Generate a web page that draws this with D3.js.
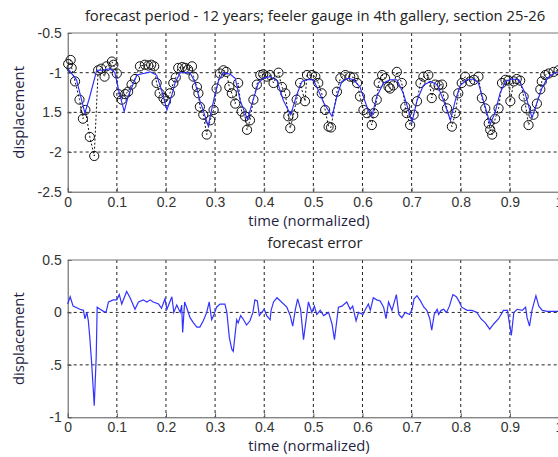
<!DOCTYPE html>
<html>
<head>
<meta charset="utf-8">
<script src="https://cdn.jsdelivr.net/npm/d3@7"></script>
<style>
  body { margin: 0; background: #fff; }
  svg { display: block; }
</style>
</head>
<body>
<div id="chart"></div>
<script>
// observed values (circles), normalized time
var obsT = [0.001, 0.006, 0.008, 0.015, 0.024, 0.031, 0.036, 0.045, 0.054, 0.062, 0.068, 0.075, 0.079,
  0.090, 0.093, 0.100, 0.103, 0.110, 0.117, 0.123, 0.130, 0.137, 0.147, 0.157, 0.164, 0.170, 0.176,
  0.181, 0.187, 0.195, 0.200, 0.208, 0.215, 0.220, 0.225, 0.233, 0.239, 0.245, 0.253, 0.256, 0.263,
  0.266, 0.269, 0.276, 0.283, 0.290, 0.297, 0.303, 0.310, 0.317, 0.323, 0.329, 0.334, 0.341, 0.347,
  0.354, 0.361, 0.365, 0.371, 0.378, 0.385, 0.392, 0.398, 0.405, 0.412, 0.419, 0.429, 0.436, 0.443,
  0.449, 0.453, 0.459, 0.466, 0.473, 0.483, 0.487, 0.497, 0.504, 0.510, 0.517, 0.524, 0.531, 0.536,
  0.548, 0.555, 0.565, 0.575, 0.582, 0.589, 0.595, 0.602, 0.609, 0.619, 0.623, 0.629, 0.633, 0.640,
  0.646, 0.653, 0.656, 0.663, 0.670, 0.680, 0.687, 0.690, 0.697, 0.704, 0.711, 0.718, 0.724, 0.734,
  0.741, 0.748, 0.755, 0.762, 0.765, 0.772, 0.782, 0.789, 0.795, 0.802, 0.809, 0.819, 0.827, 0.836,
  0.843, 0.850, 0.857, 0.860, 0.864, 0.870, 0.877, 0.884, 0.891, 0.897, 0.901, 0.908, 0.914, 0.921,
  0.928, 0.933, 0.938, 0.948, 0.955, 0.962, 0.965, 0.972, 0.979, 0.989, 0.999];
var obsV = [-0.89, -0.84, -0.94, -1.11, -1.34, -1.58, -1.47, -1.81, -2.05, -0.97, -0.95, -1.05, -0.92,
  -0.86, -0.90, -1.01, -1.27, -1.34, -1.27, -1.24, -1.15, -1.08, -0.92, -0.90, -0.91, -0.90, -0.92,
  -1.13, -1.26, -1.32, -1.36, -1.26, -1.13, -1.06, -0.94, -0.93, -0.94, -0.96, -0.92, -1.05, -1.18,
  -1.26, -1.43, -1.53, -1.78, -1.60, -1.47, -1.20, -1.01, -0.97, -0.99, -1.18, -1.26, -1.39, -1.13,
  -1.49, -1.55, -1.72, -1.60, -1.34, -1.15, -1.03, -1.02, -1.05, -1.03, -1.13, -1.00, -1.18, -1.26,
  -1.55, -1.70, -1.54, -1.34, -1.13, -1.36, -1.03, -1.03, -1.05, -1.13, -1.26, -1.47, -1.68, -1.69,
  -1.24, -1.07, -1.03, -1.05, -1.06, -1.13, -1.30, -1.47, -1.51, -1.66, -1.51, -1.34, -1.13, -1.03,
  -1.07, -1.18, -1.20, -1.16, -0.99, -1.13, -1.43, -1.51, -1.66, -1.53, -1.36, -1.13, -1.05, -1.03,
  -1.32, -1.15, -1.16, -1.15, -1.30, -1.45, -1.68, -1.51, -1.26, -1.13, -1.05, -1.11, -1.09, -1.05,
  -1.32, -1.45, -1.64, -1.72, -1.78, -1.58, -1.45, -1.13, -1.09, -1.10, -1.36, -1.11, -1.08, -1.10,
  -1.30, -1.45, -1.66, -1.53, -1.39, -1.21, -1.11, -1.03, -1.01, -0.99, -0.97];

// forecast (blue line)
var fcT = [0, 0.018, 0.035, 0.045, 0.059, 0.072, 0.086, 0.096, 0.103, 0.115, 0.123, 0.134, 0.141,
  0.154, 0.168, 0.181, 0.191, 0.202, 0.212, 0.219, 0.229, 0.249, 0.259, 0.269, 0.286, 0.297, 0.307,
  0.317, 0.331, 0.341, 0.351, 0.366, 0.377, 0.388, 0.398, 0.412, 0.426, 0.439, 0.454, 0.466, 0.477,
  0.487, 0.500, 0.510, 0.521, 0.538, 0.548, 0.558, 0.571, 0.582, 0.595, 0.609, 0.619, 0.629, 0.643,
  0.656, 0.670, 0.683, 0.701, 0.711, 0.724, 0.738, 0.752, 0.765, 0.779, 0.789, 0.799, 0.813, 0.826,
  0.836, 0.846, 0.860, 0.870, 0.880, 0.891, 0.904, 0.918, 0.931, 0.945, 0.955, 0.965, 0.976, 0.989, 0.999];
var fcV = [-0.945, -1.09, -1.51, -1.30, -0.97, -0.97, -0.95, -1.00, -1.20, -1.49, -1.30, -1.13, -1.03,
  -1.01, -0.99, -1.03, -1.22, -1.47, -1.28, -1.12, -1.00, -1.00, -1.12, -1.35, -1.67, -1.35, -1.10,
  -1.00, -1.02, -1.07, -1.35, -1.59, -1.35, -1.13, -1.07, -1.05, -1.10, -1.35, -1.53, -1.28, -1.11,
  -1.09, -1.09, -1.22, -1.38, -1.55, -1.30, -1.11, -1.07, -1.09, -1.18, -1.43, -1.55, -1.30, -1.13,
  -1.09, -1.09, -1.26, -1.62, -1.35, -1.16, -1.11, -1.15, -1.35, -1.60, -1.35, -1.16, -1.09, -1.08,
  -1.13, -1.35, -1.65, -1.50, -1.26, -1.11, -1.08, -1.09, -1.26, -1.57, -1.38, -1.20, -1.07, -1.01, -0.99];

// forecast error
var errT = [0, 0.005, 0.011, 0.025, 0.032, 0.035, 0.039, 0.042, 0.045, 0.049, 0.054, 0.058, 0.060,
  0.066, 0.073, 0.078, 0.083, 0.093, 0.100, 0.105, 0.110, 0.120, 0.127, 0.137, 0.144, 0.154, 0.161,
  0.168, 0.174, 0.185, 0.191, 0.198, 0.202, 0.212, 0.216, 0.222, 0.229, 0.232, 0.234, 0.238, 0.242,
  0.249, 0.256, 0.263, 0.269, 0.276, 0.283, 0.288, 0.293, 0.297, 0.303, 0.310, 0.320, 0.324, 0.329,
  0.334, 0.337, 0.344, 0.347, 0.352, 0.358, 0.364, 0.371, 0.377, 0.381, 0.386, 0.390, 0.395, 0.400,
  0.405, 0.412, 0.414, 0.419, 0.426, 0.446, 0.453, 0.458, 0.463, 0.468, 0.474, 0.480, 0.490, 0.497,
  0.502, 0.507, 0.514, 0.521, 0.531, 0.538, 0.543, 0.551, 0.558, 0.568, 0.575, 0.580, 0.587, 0.592,
  0.601, 0.605, 0.612, 0.616, 0.622, 0.629, 0.636, 0.643, 0.648, 0.653, 0.660, 0.669, 0.674, 0.680,
  0.687, 0.696, 0.701, 0.705, 0.711, 0.718, 0.725, 0.731, 0.737, 0.741, 0.746, 0.752, 0.755, 0.760,
  0.765, 0.771, 0.777, 0.784, 0.791, 0.796, 0.802, 0.813, 0.823, 0.833, 0.841, 0.850, 0.859, 0.867,
  0.877, 0.887, 0.895, 0.899, 0.903, 0.908, 0.915, 0.925, 0.932, 0.935, 0.940, 0.945, 0.953, 0.959,
  0.966, 0.976, 0.999];
var errV = [0.08, 0.15, 0.06, 0.03, 0.02, -0.06, 0.00, -0.08, -0.24, -0.50, -0.89, -0.43, 0.05,
  0.03, 0.01, 0.00, 0.10, 0.12, 0.12, 0.17, 0.08, 0.20, 0.14, 0.03, 0.10, 0.12, 0.10,
  0.12, 0.10, 0.08, 0.04, 0.13, 0.03, 0.15, 0.00, 0.07, 0.00, 0.07, -0.19, 0.10, 0.05,
  -0.05, -0.10, -0.14, -0.14, -0.08, 0.00, 0.10, -0.07, -0.03, 0.05, 0.08, 0.08, 0.00, -0.24,
  -0.35, -0.37, -0.07, -0.10, -0.03, -0.07, -0.12, -0.08, 0.00, 0.12, 0.11, -0.03, 0.00, 0.03,
  -0.03, -0.07, 0.02, 0.10, 0.14, 0.05, -0.03, -0.13, 0.02, 0.13, 0.03, -0.26, 0.10, 0.00,
  0.06, -0.02, 0.02, -0.03, 0.00, -0.11, -0.26, 0.05, 0.06, 0.10, 0.03, 0.06, -0.08, 0.00,
  -0.02, 0.02, 0.08, 0.02, 0.14, 0.12, 0.11, 0.05, -0.06, 0.10, 0.02, 0.17, -0.02, -0.05,
  0.00, -0.02, 0.03, 0.13, 0.16, 0.11, 0.05, 0.02, -0.06, -0.17, -0.02, 0.03, -0.02, 0.02,
  0.03, 0.00, 0.06, 0.17, 0.15, 0.11, 0.05, 0.02, 0.02, 0.00, -0.06, -0.10, -0.16, -0.11,
  -0.06, 0.02, 0.02, -0.10, -0.22, 0.00, 0.03, 0.02, 0.05, -0.05, -0.13, 0.02, 0.16, 0.06,
  0.02, 0.01, 0.01];

// tick labels (as printed in the figure)
var xTicks = [0, 0.1, 0.2, 0.3, 0.4, 0.5, 0.6, 0.7, 0.8, 0.9, 1];
var xTickLabels = ["0", "0.1", "0.2", "0.3", "0.4", "0.5", "0.6", "0.7", "0.8", "0.9", "1"];
var yTicksTop = [-2.5, -2, -1.5, -1, -0.5];
var yTickLabelsTop = ["-2.5", "-2", "1.5", "-1", "-0.5"];
var yTicksBot = [-1, -0.5, 0, 0.5];
var yTickLabelsBot = ["-1", ".5", "0", "0.5"];

var width = 558, height = 457;
var left = 67.7, right = 559;

var svg = d3.select("#chart").append("svg")
    .attr("width", width)
    .attr("height", height);

var x = d3.scaleLinear().domain([0, 1]).range([left, right]);

function panel(opts) {
    var y = d3.scaleLinear().domain(opts.yDomain).range([opts.bottom, opts.top]);
    var g = svg.append("g");

    // dotted grid
    g.selectAll(".gx")
        .data(xTicks.slice(1, -1))
        .enter().append("line")
        .attr("x1", d => x(d)).attr("x2", d => x(d))
        .attr("y1", opts.top).attr("y2", opts.bottom)
        .attr("stroke", "#222").attr("stroke-width", 1)
        .attr("stroke-dasharray", "3,3");
    g.selectAll(".gy")
        .data(opts.yTicks.slice(1, -1))
        .enter().append("line")
        .attr("x1", left).attr("x2", right)
        .attr("y1", d => y(d)).attr("y2", d => y(d))
        .attr("stroke", "#222").attr("stroke-width", 1)
        .attr("stroke-dasharray", "3,3");

    // axes
    var xAxis = g.append("g")
        .attr("transform", "translate(0," + opts.bottom + ")")
        .call(d3.axisBottom(x).tickValues(xTicks)
            .tickFormat((d, i) => xTickLabels[i])
            .tickSizeInner(-4).tickSizeOuter(0).tickPadding(5));
    var yAxis = g.append("g")
        .attr("transform", "translate(" + left + ",0)")
        .call(d3.axisLeft(y).tickValues(opts.yTicks)
            .tickFormat((d, i) => opts.yLabels[i])
            .tickSizeInner(-4).tickSizeOuter(0).tickPadding(6));
    [xAxis, yAxis].forEach(function (a) {
        a.select(".domain").attr("stroke", "#555");
        a.selectAll(".tick line").attr("stroke", "#555");
        a.selectAll("text")
            .style("font-family", "'Liberation Sans', Arial, sans-serif")
            .style("font-size", "14px")
            .attr("fill", "#333");
    });
    // top border
    g.append("line")
        .attr("x1", left).attr("x2", right)
        .attr("y1", opts.top).attr("y2", opts.top)
        .attr("stroke", "#777");

    // titles
    g.append("text")
        .attr("x", 315).attr("y", opts.top - 12)
        .attr("text-anchor", "middle")
        .style("font-family", "'Open Sans', sans-serif")
        .style("font-size", "14.8px")
        .attr("fill", "#222")
        .text(opts.title);
    g.append("text")
        .attr("x", 309).attr("y", opts.bottom + 34)
        .attr("text-anchor", "middle")
        .style("font-family", "'Open Sans', sans-serif")
        .style("font-size", "14.8px")
        .attr("fill", "#1f1f44")
        .text("time (normalized)");
    g.append("text")
        .attr("transform", "translate(24," + ((opts.top + opts.bottom) / 2) + ") rotate(-90)")
        .attr("text-anchor", "middle")
        .style("font-family", "'Open Sans', sans-serif")
        .style("font-size", "14.8px")
        .attr("fill", "#1f1f44")
        .text("displacement");

    return { g: g, y: y };
}

// --- top panel: observed vs forecast
var topP = panel({
    top: 33, bottom: 191.7, yDomain: [-2.5, -0.5],
    yTicks: yTicksTop, yLabels: yTickLabelsTop,
    title: "forecast period - 12 years; feeler gauge in 4th gallery, section 25-26"
});

var obs = obsT.map((t, i) => [t, obsV[i]]);
var fc = fcT.map((t, i) => [t, fcV[i]]);

topP.g.append("path")
    .datum(obs)
    .attr("fill", "none")
    .attr("stroke", "#111")
    .attr("stroke-width", 1)
    .attr("stroke-dasharray", "2,2")
    .attr("d", d3.line().x(d => x(d[0])).y(d => topP.y(d[1])));

topP.g.selectAll(".obs")
    .data(obs)
    .enter().append("circle")
    .attr("cx", d => x(d[0]))
    .attr("cy", d => topP.y(d[1]))
    .attr("r", 4.6)
    .attr("fill", "none")
    .attr("stroke", "#111")
    .attr("stroke-width", 1);

topP.g.append("path")
    .datum(fc)
    .attr("fill", "none")
    .attr("stroke", "#2828ff")
    .attr("stroke-width", 1.1)
    .attr("d", d3.line().x(d => x(d[0])).y(d => topP.y(d[1])));

// --- bottom panel: forecast error
var botP = panel({
    top: 260, bottom: 417.3, yDomain: [-1, 0.5],
    yTicks: yTicksBot, yLabels: yTickLabelsBot,
    title: "forecast error"
});

var err = errT.map((t, i) => [t, errV[i]]);
botP.g.append("path")
    .datum(err)
    .attr("fill", "none")
    .attr("stroke", "#3333ff")
    .attr("stroke-width", 1.2)
    .attr("d", d3.line().x(d => x(d[0])).y(d => botP.y(d[1])));
</script>
</body>
</html>
